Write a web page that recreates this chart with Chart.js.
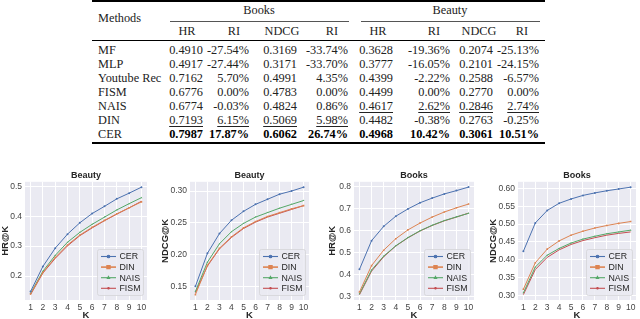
<!DOCTYPE html>
<html>
<head>
<meta charset="utf-8">
<script src="https://cdn.jsdelivr.net/npm/chart.js@4.4.1/dist/chart.umd.min.js"></script>
<style>
  body { margin: 0; width: 640px; height: 319px; background: #fff; position: relative; overflow: hidden; }
  #table { position: absolute; left: 0; top: 0; width: 640px; height: 150px; font-family: 'Liberation Serif', serif; font-size: 12.3px; color: #222; }
  .cell { position: absolute; white-space: nowrap; line-height: 14px; }
  .u { text-decoration: underline; text-underline-offset: 2px; text-decoration-thickness: 0.7px; }
  .b { font-weight: bold; color: #000; }
  .rule { position: absolute; background: #000; }
  canvas { position: absolute; top: 168px; }
</style>
</head>
<body>
<div id="table"></div>
<canvas id="c0" width="160" height="153" style="left:0px"></canvas>
<canvas id="c1" width="160" height="153" style="left:160px"></canvas>
<canvas id="c2" width="160" height="153" style="left:320px"></canvas>
<canvas id="c3" width="160" height="153" style="left:480px"></canvas>
<script>
// ---- table data ----
const tableMethods = ['MF', 'MLP', 'Youtube Rec', 'FISM', 'NAIS', 'DIN', 'CER'];
const booksHR = ['0.4910', '0.4917', '0.7162', '0.6776', '0.6774', '0.7193', '0.7987'];
const booksHRRI = ['-27.54%', '-27.44%', '5.70%', '0.00%', '-0.03%', '6.15%', '17.87%'];
const booksNDCG = ['0.3169', '0.3171', '0.4991', '0.4783', '0.4824', '0.5069', '0.6062'];
const booksNDCGRI = ['-33.74%', '-33.70%', '4.35%', '0.00%', '0.86%', '5.98%', '26.74%'];
const beautyHR = ['0.3628', '0.3777', '0.4399', '0.4499', '0.4617', '0.4482', '0.4968'];
const beautyHRRI = ['-19.36%', '-16.05%', '-2.22%', '0.00%', '2.62%', '-0.38%', '10.42%'];
const beautyNDCG = ['0.2074', '0.2101', '0.2588', '0.2770', '0.2846', '0.2763', '0.3061'];
const beautyNDCGRI = ['-25.13%', '-24.15%', '-6.57%', '0.00%', '2.74%', '-0.25%', '10.51%'];
const subHeaders = ['HR', 'RI', 'NDCG', 'RI', 'HR', 'RI', 'NDCG', 'RI'];

// ---- chart data ----
const K = [1, 2, 3, 4, 5, 6, 7, 8, 9, 10];
const seriesNames = ['CER', 'DIN', 'NAIS', 'FISM'];

const beautyHrCer = [0.148, 0.232, 0.293, 0.340, 0.378, 0.409, 0.433, 0.458, 0.477, 0.497];
const beautyHrDin = [0.140, 0.212, 0.262, 0.304, 0.337, 0.363, 0.386, 0.408, 0.428, 0.448];
const beautyHrNais = [0.142, 0.216, 0.269, 0.313, 0.346, 0.373, 0.397, 0.421, 0.442, 0.462];
const beautyHrFism = [0.138, 0.210, 0.259, 0.301, 0.335, 0.361, 0.385, 0.407, 0.428, 0.450];

const beautyNdcgCer = [0.150, 0.202, 0.233, 0.254, 0.268, 0.279, 0.287, 0.295, 0.300, 0.306];
const beautyNdcgDin = [0.137, 0.183, 0.210, 0.228, 0.242, 0.252, 0.260, 0.266, 0.272, 0.277];
const beautyNdcgNais = [0.142, 0.188, 0.217, 0.236, 0.249, 0.259, 0.266, 0.273, 0.279, 0.285];
const beautyNdcgFism = [0.140, 0.182, 0.209, 0.227, 0.241, 0.251, 0.259, 0.265, 0.271, 0.277];

const booksHrCer = [0.423, 0.553, 0.618, 0.664, 0.697, 0.725, 0.746, 0.765, 0.780, 0.796];
const booksHrDin = [0.320, 0.440, 0.510, 0.562, 0.602, 0.633, 0.660, 0.683, 0.702, 0.719];
const booksHrNais = [0.312, 0.420, 0.483, 0.530, 0.567, 0.598, 0.623, 0.644, 0.661, 0.677];
const booksHrFism = [0.308, 0.415, 0.480, 0.529, 0.566, 0.597, 0.622, 0.643, 0.660, 0.678];

const booksNdcgCer = [0.424, 0.503, 0.538, 0.558, 0.570, 0.580, 0.587, 0.593, 0.598, 0.603];
const booksNdcgDin = [0.318, 0.392, 0.430, 0.453, 0.469, 0.480, 0.489, 0.496, 0.502, 0.507];
const booksNdcgNais = [0.308, 0.380, 0.413, 0.432, 0.447, 0.458, 0.466, 0.473, 0.478, 0.483];
const booksNdcgFism = [0.303, 0.373, 0.407, 0.428, 0.443, 0.454, 0.462, 0.469, 0.474, 0.478];

const yTicks0 = [0.2, 0.3, 0.4, 0.5];
const yTicks1 = [0.15, 0.20, 0.25, 0.30];
const yTicks2 = [0.3, 0.4, 0.5, 0.6, 0.7, 0.8];
const yTicks3 = [0.30, 0.35, 0.40, 0.45, 0.50, 0.55, 0.60];

// ---- build table ----
const tbl = document.getElementById('table');
function cell(text, x, y, align, cls) {
  const d = document.createElement('div');
  d.className = 'cell' + (cls ? ' ' + cls : '');
  d.textContent = text;
  d.style.top = (y - 7) + 'px';
  if (align === 'right') d.style.right = (640 - x) + 'px';
  else if (align === 'center') { d.style.left = (x - 40) + 'px'; d.style.width = '80px'; d.style.textAlign = 'center'; }
  else d.style.left = x + 'px';
  tbl.appendChild(d);
}
function rule(x0, x1, y, h, color) {
  const d = document.createElement('div');
  d.className = 'rule';
  d.style.left = x0 + 'px';
  d.style.width = (x1 - x0) + 'px';
  d.style.top = y + 'px';
  d.style.height = h + 'px';
  if (color) d.style.background = color;
  tbl.appendChild(d);
}
rule(92, 545, 0, 1.5);
rule(170, 349, 21, 0.7, '#555');
rule(361, 540, 21, 0.7, '#555');
rule(92, 545, 40, 0.9);
rule(92, 545, 142, 1.5);
cell('Methods', 98, 18, 'left');
cell('Books', 259, 10, 'center');
cell('Beauty', 450, 10, 'center');
const subX = [187, 234, 282, 332, 378, 434, 479, 522];
subHeaders.forEach((h, i) => cell(h, subX[i], 31, 'center'));
const colRight = [203, 249, 297, 348, 393, 450, 493, 539];
const cols = [booksHR, booksHRRI, booksNDCG, booksNDCGRI, beautyHR, beautyHRRI, beautyNDCG, beautyNDCGRI];
tableMethods.forEach((m, r) => {
  const y = 50 + r * 14;
  const bold = m === 'CER' ? 'b' : '';
  cell(m, 98, y, 'left');
  cols.forEach((col, c) => {
    let cls = bold;
    if ((m === 'DIN' && c < 4) || (m === 'NAIS' && c >= 4)) cls = 'u';
    cell(col[r], colRight[c], y, 'right', cls);
  });
});

// ---- charts ----
const colors = ['#4C72B0', '#DD8452', '#55A868', '#C44E52'];
const pointStyles = ['circle', 'rect', 'triangle', 'star'];
const FONT = "'Liberation Sans', Arial, sans-serif";
const TEXT = '#262626';

// seaborn-like grey plot background
const bgPlugin = {
  id: 'bg',
  beforeDraw(chart) {
    const { ctx, chartArea: a } = chart;
    ctx.save();
    ctx.fillStyle = '#EAEAF2';
    ctx.fillRect(a.left, a.top, a.right - a.left, a.bottom - a.top);
    ctx.restore();
  },
  afterLayout(chart) {
    // center title over the axes, like matplotlib
    if (chart.titleBlock) {
      chart.titleBlock.left = chart.chartArea.left;
      chart.titleBlock.right = chart.chartArea.right;
    }
  }
};

// legend box inside lower right of the plot
const innerLegend = {
  id: 'innerLegend',
  afterDatasetsDraw(chart) {
    const { ctx, chartArea: a } = chart;
    const w = 46, h = 46, rowH = 10.6;
    const x0 = a.right - w - 4, y0 = a.bottom - h - 5;
    ctx.save();
    ctx.fillStyle = 'rgba(234,234,242,0.85)';
    ctx.strokeStyle = '#d4d4d8';
    ctx.lineWidth = 0.8;
    ctx.beginPath();
    ctx.roundRect(x0 + 0.5, y0 + 0.5, w, h, 2);
    ctx.fill();
    ctx.stroke();
    ctx.font = '8.8px ' + FONT;
    ctx.textBaseline = 'middle';
    chart.data.datasets.forEach((ds, i) => {
      const y = y0 + 7.5 + i * rowH;
      ctx.strokeStyle = ds.borderColor;
      ctx.lineWidth = i === 1 ? 1.6 : 1.1;
      ctx.beginPath();
      ctx.moveTo(x0 + 4, y);
      ctx.lineTo(x0 + 19, y);
      ctx.stroke();
      ctx.fillStyle = ds.borderColor;
      Chart.helpers.drawPoint(ctx, { pointStyle: ds.pointStyle, radius: i === 1 ? 2 : 1.3, borderWidth: 0.5 }, x0 + 11.5, y);
      ctx.fillStyle = TEXT;
      ctx.fillText(seriesNames[i], x0 + 22.5, y + 0.5);
    });
    ctx.restore();
  }
};

function makeChart(id, title, yLabel, series, yMin, yMax, yTicks, decimals, padLeft, yWidth, padRight) {
  new Chart(document.getElementById(id), {
    type: 'line',
    data: {
      datasets: series.map((vals, i) => ({
        label: seriesNames[i],
        data: K.map((k, j) => ({ x: k, y: vals[j] })),
        borderColor: colors[i],
        backgroundColor: colors[i],
        pointBackgroundColor: colors[i],
        pointBorderColor: colors[i],
        pointBorderWidth: 0,
        pointRadius: i === 1 ? 1.1 : 1,
        pointStyle: pointStyles[i],
        borderWidth: 1,
        tension: 0,
        fill: false
      }))
    },
    options: {
      responsive: false,
      animation: false,
      devicePixelRatio: 1,
      layout: { padding: { left: padLeft, right: padRight, top: 0, bottom: 0 } },
      plugins: {
        legend: { display: false },
        tooltip: { enabled: false },
        title: {
          display: true,
          text: title,
          color: TEXT,
          font: { family: FONT, size: 9, weight: 'bold' },
          padding: { top: 2, bottom: 1 }
        }
      },
      scales: {
        x: {
          type: 'linear',
          min: 0.55,
          max: 10.45,
          afterBuildTicks: s => { s.ticks = K.map(v => ({ value: v })); },
          afterFit: s => { s.height = 21; },
          grid: { color: '#ffffff', lineWidth: 1, drawTicks: false },
          border: { display: false },
          ticks: { color: '#444', font: { family: FONT, size: 8.5 }, padding: 3, maxRotation: 0, autoSkip: false },
          title: { display: true, text: 'K', color: TEXT, font: { family: FONT, size: 9.5, weight: 'bold' }, padding: 0 }
        },
        y: {
          type: 'linear',
          min: yMin,
          max: yMax,
          afterBuildTicks: s => { s.ticks = yTicks.map(v => ({ value: v })); },
          afterFit: s => { s.width = yWidth; },
          grid: { color: '#ffffff', lineWidth: 1, drawTicks: false },
          border: { display: false },
          ticks: {
            color: '#444',
            font: { family: FONT, size: 8.5 },
            padding: 3,
            autoSkip: false,
            callback: v => v.toFixed(decimals)
          },
          title: { display: true, text: yLabel, color: TEXT, font: { family: FONT, size: 9.5, weight: 'bold' }, padding: 0 }
        }
      }
    },
    plugins: [bgPlugin, innerLegend]
  });
}

makeChart('c0', 'Beauty', 'HR@K', [beautyHrCer, beautyHrDin, beautyHrNais, beautyHrFism], 0.120, 0.515, yTicks0, 1, 0, 25, 13);
makeChart('c1', 'Beauty', 'NDCG@K', [beautyNdcgCer, beautyNdcgDin, beautyNdcgNais, beautyNdcgFism], 0.1285, 0.3145, yTicks1, 2, 0, 30, 11);
makeChart('c2', 'Books', 'HR@K', [booksHrCer, booksHrDin, booksHrNais, booksHrFism], 0.284, 0.820, yTicks2, 1, 7, 27, 6);
makeChart('c3', 'Books', 'NDCG@K', [booksNdcgCer, booksNdcgDin, booksNdcgNais, booksNdcgFism], 0.288, 0.618, yTicks3, 2, 8, 30, 3);
</script>
</body>
</html>
